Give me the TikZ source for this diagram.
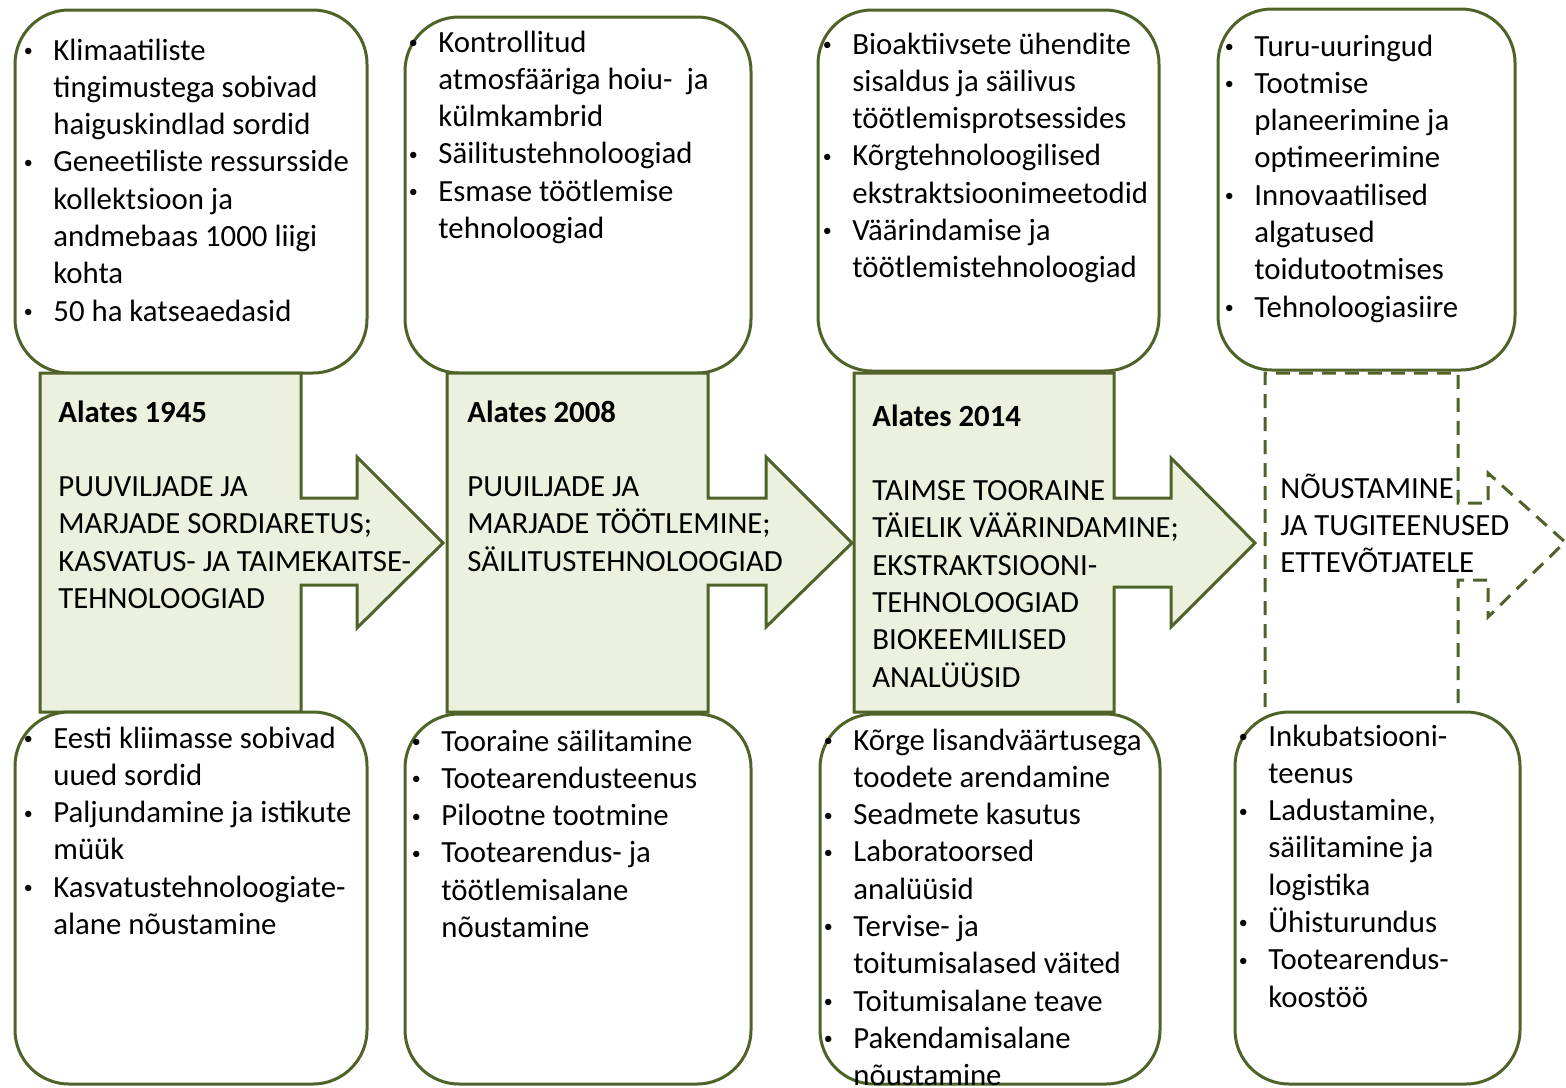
\documentclass[tikz,border=0pt]{standalone}
\usepackage{fontspec}
\setmainfont{Carlito}
\usepackage{xcolor}
\usepackage{tikz}

\definecolor{leafline}{HTML}{4F6228}
\definecolor{leaffill}{HTML}{EBF1DE}
\newcommand{\bul}{\makebox[0pt][c]{\raisebox{1.8pt}{\fontsize{9}{9}\selectfont\textbullet}}}
\newenvironment{blist}{\begin{tabular}[t]{@{}p{12.5pt}@{}l@{}}}{\end{tabular}}
\newenvironment{clist}{\begin{tabular}[t]{@{}l@{}}}{\end{tabular}}

\begin{document}
\begin{tikzpicture}[x=0.5pt, y=-0.5pt,
      box/.style={draw=leafline, line width=1.5pt, fill=white, rounded corners=27pt},
      era/.style={draw=leafline, line width=1.5pt, fill=leaffill},
      plan/.style={draw=leafline, line width=1.5pt, dash pattern=on 7pt off 4.5pt},
      txt/.style={anchor=base west, inner sep=0pt, font=\fontsize{15.4}{18.65}\selectfont},
    ]
    \useasboundingbox (0,0) rectangle (1566,1087);
    % upper boxes
    \draw[box] (15,10) rectangle (367,373);
    \draw[box] (405,17) rectangle (751,373);
    \draw[box] (818,10) rectangle (1159,371);
    \draw[box] (1218,9) rectangle (1515,370);
    % period arrows
    \draw[era] (40,373) -- (301,373) -- (301,498) -- (357,498) -- (357,457) -- (443,543)
      -- (357,628) -- (357,585) -- (301,585) -- (301,712) -- (40,712) -- cycle;
    \draw[era] (447,373) -- (708,373) -- (708,498) -- (766,498) -- (766,457) -- (852,543)
      -- (766,627) -- (766,585) -- (708,585) -- (708,712) -- (447,712) -- cycle;
    \draw[era] (854,373) -- (1114,373) -- (1114,498) -- (1171,498) -- (1171,458) -- (1255,543)
      -- (1171,627) -- (1171,587) -- (1114,587) -- (1114,712) -- (854,712) -- cycle;
    \draw[plan] (1458,703) -- (1458,580) -- (1488,580) -- (1488,617) -- (1565,542)
      -- (1488,473) -- (1488,503) -- (1458,503) -- (1458,373) -- (1265,373) -- (1265,716);
    % lower boxes
    \draw[box] (15,712) rectangle (367,1084);
    \draw[box] (405,714) rectangle (751,1084);
    \draw[box] (820,714) rectangle (1160,1084);
    \draw[box] (1235,712) rectangle (1520,1084);

    \node[txt] (era1) at (58,422) {\begin{clist}\textbf{Alates 1945}\\ \\
      PUUVILJADE JA\\ MARJADE SORDIARETUS;\\ KASVATUS- JA TAIMEKAITSE-\\ TEHNOLOOGIAD\end{clist}};
    \node[txt] (era2) at (467,422) {\begin{clist}\textbf{Alates 2008}\\ \\
      PUUILJADE JA\\ MARJADE TÖÖTLEMINE;\\ SÄILITUSTEHNOLOOGIAD\end{clist}};
    \node[txt] (era3) at (872,426) {\begin{clist}\textbf{Alates 2014}\\ \\
      TAIMSE TOORAINE\\ TÄIELIK VÄÄRINDAMINE;\\ EKSTRAKTSIOONI-\\ TEHNOLOOGIAD\\
      BIOKEEMILISED\\ ANALÜÜSID\end{clist}};
    \node[txt] (era4) at (1280,498) {\begin{clist}NÕUSTAMINE\\ JA TUGITEENUSED\\
      ETTEVÕTJATELE\end{clist}};

    \node[txt] (res1) at (28,60) {\begin{blist}
      \bul & Klimaatiliste\\ & tingimustega sobivad\\ & haiguskindlad sordid\\
      \bul & Geneetiliste ressursside\\ & kollektsioon ja\\ & andmebaas 1000 liigi\\ & kohta\\
      \bul & 50 ha katseaedasid\end{blist}};
    \node[txt] (res2) at (413,52) {\begin{blist}
      \bul & Kontrollitud\\ & atmosfääriga hoiu-\ \ ja\\ & külmkambrid\\
      \bul & Säilitustehnoloogiad\\
      \bul & Esmase töötlemise\\ & tehnoloogiad\end{blist}};
    \node[txt] (res3) at (827,54) {\begin{blist}
      \bul & Bioaktiivsete ühendite\\ & sisaldus ja säilivus\\ & töötlemisprotsessides\\
      \bul & Kõrgtehnoloogilised\\ & ekstraktsioonimeetodid\\
      \bul & Väärindamise ja\\ & töötlemistehnoloogiad\end{blist}};
    \node[txt] (res4) at (1229,56) {\begin{blist}
      \bul & Turu-uuringud\\
      \bul & Tootmise\\ & planeerimine ja\\ & optimeerimine\\
      \bul & Innovaatilised\\ & algatused\\ & toidutootmises\\
      \bul & Tehnoloogiasiire\end{blist}};

    \node[txt] (srv1) at (28,748) {\begin{blist}
      \bul & Eesti kliimasse sobivad\\ & uued sordid\\
      \bul & Paljundamine ja istikute\\ & müük\\
      \bul & Kasvatustehnoloogiate-\\ & alane nõustamine\end{blist}};
    \node[txt] (srv2) at (416,751) {\begin{blist}
      \bul & Tooraine säilitamine\\
      \bul & Tootearendusteenus\\
      \bul & Pilootne tootmine\\
      \bul & Tootearendus- ja\\ & töötlemisalane\\ & nõustamine\end{blist}};
    \node[txt] (srv3) at (828,750) {\begin{blist}
      \bul & Kõrge lisandväärtusega\\ & toodete arendamine\\
      \bul & Seadmete kasutus\\
      \bul & Laboratoorsed\\ & analüüsid\\
      \bul & Tervise- ja\\ & toitumisalased väited\\
      \bul & Toitumisalane teave\\
      \bul & Pakendamisalane\\ & nõustamine\end{blist}};
    \node[txt] (srv4) at (1243,746) {\begin{blist}
      \bul & Inkubatsiooni-\\ & teenus\\
      \bul & Ladustamine,\\ & säilitamine ja\\ & logistika\\
      \bul & Ühisturundus\\
      \bul & Tootearendus-\\ & koostöö\end{blist}};
  \end{tikzpicture}
\end{document}
